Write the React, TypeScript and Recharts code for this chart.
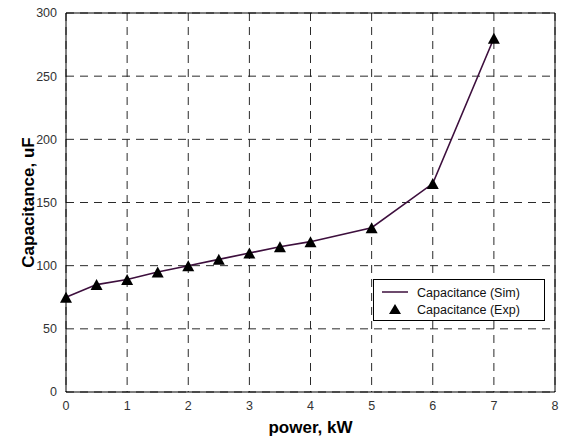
import React from 'react';
import { ComposedChart, Line, XAxis, YAxis, CartesianGrid, ReferenceLine } from 'recharts';

const powerKW = [0, 0.5, 1, 1.5, 2, 2.5, 3, 3.5, 4, 5, 6, 7];
const capacitanceUF = [75, 85, 89, 95, 100, 105, 110, 115, 119, 130, 165, 280];
const xTicks = [0, 1, 2, 3, 4, 5, 6, 7, 8];
const yTicks = [0, 50, 100, 150, 200, 250, 300];
const simName = 'Capacitance (Sim)';
const expName = 'Capacitance (Exp)';

const data = powerKW.map((p, i) => ({ p, c: capacitanceUF[i] }));

const FONT = '"Liberation Sans", Arial, sans-serif';
const LINE_COLOR = '#3d0f3d';

const Triangle = (props: any) => {
  const { cx, cy } = props;
  if (cx == null || cy == null) return null;
  const w = 6, h = 5.5;
  return <path d={`M${cx},${cy - h} L${cx + w},${cy + h} L${cx - w},${cy + h} Z`} fill="#000" stroke="none" />;
};

const LegendBox = () => (
  <svg width={172} height={42} style={{ display: 'block' }}>
    <rect x={0.5} y={0.5} width={171} height={41} fill="#fff" stroke="#000" strokeWidth={1} />
    <line x1={9} y1={13} x2={35} y2={13} stroke={LINE_COLOR} strokeWidth={1.5} />
    <path d="M22,25 L28,35 L16,35 Z" fill="#000" />
    <text x={44} y={17.5} fontFamily={FONT} fontSize={12.5} fill="#111">{simName}</text>
    <text x={44} y={35} fontFamily={FONT} fontSize={12.5} fill="#111">{expName}</text>
  </svg>
);

export default function App() {
  return (
    <div style={{ position: 'absolute', left: 0, top: 0, width: 562, height: 438, background: '#fff' }}>
      <ComposedChart width={562} height={438} data={data} margin={{ top: 13, right: 7, bottom: 0, left: 0 }}>
        <CartesianGrid stroke="#2a2a2a" strokeDasharray="8 6" strokeWidth={1} />
        <XAxis
          dataKey="p"
          type="number"
          domain={[0, 8]}
          ticks={xTicks}
          height={46}
          tickLine={false}
          axisLine={{ stroke: '#000' }}
          tick={{ fontFamily: FONT, fontSize: 12.5, fill: '#333' }}
          tickMargin={3}
          interval={0}
          label={{
            content: (p: any) => {
              const vb = p.viewBox;
              return (
                <text x={vb.x + vb.width / 2} y={vb.y + 41} textAnchor="middle" fontFamily={FONT} fontWeight="bold" fontSize={17} fill="#000">
                  power, kW
                </text>
              );
            },
          }}
        />
        <YAxis
          type="number"
          domain={[0, 300]}
          ticks={yTicks}
          width={66}
          tickLine={false}
          axisLine={{ stroke: '#000' }}
          tick={{ fontFamily: FONT, fontSize: 12.5, fill: '#333' }}
          tickMargin={3}
          interval={0}
          label={{
            content: (p: any) => {
              const vb = p.viewBox;
              const cx = vb.x + 28;
              const cy = vb.y + vb.height / 2;
              return (
                <text x={cx} y={cy} transform={`rotate(-90, ${cx}, ${cy})`} textAnchor="middle" dominantBaseline="central" fontFamily={FONT} fontWeight="bold" fontSize={17} fill="#000">
                  Capacitance, uF
                </text>
              );
            },
          }}
        />
        <ReferenceLine y={300} stroke="#000" strokeWidth={1} />
        <ReferenceLine x={8} stroke="#000" strokeWidth={1} />
        <Line
          dataKey="c"
          name={simName}
          stroke={LINE_COLOR}
          strokeWidth={1.6}
          dot={<Triangle />}
          activeDot={false}
          isAnimationActive={false}
        />
      </ComposedChart>
      <div style={{ position: 'absolute', left: 373, top: 279 }}>
        <LegendBox />
      </div>
    </div>
  );
}
